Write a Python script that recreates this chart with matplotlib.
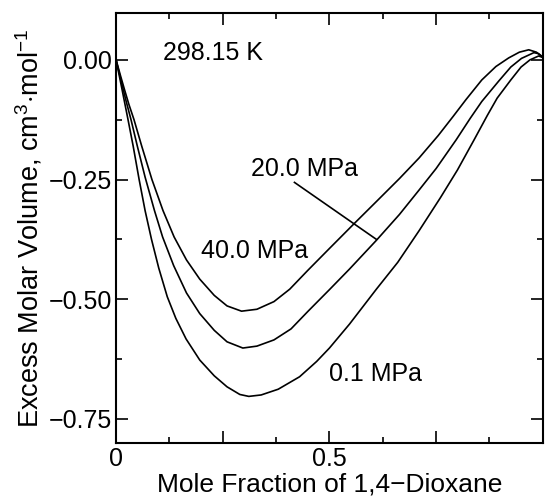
import numpy as np
import matplotlib.pyplot as plt
from matplotlib.ticker import MultipleLocator, FixedFormatter, FixedLocator

plt.rcParams['font.family'] = ['Liberation Sans', 'DejaVu Sans']
plt.rcParams['mathtext.fontset'] = 'custom'
plt.rcParams['mathtext.rm'] = 'Liberation Sans'
plt.rcParams['mathtext.it'] = 'Liberation Sans'

# mole fraction of 1,4-dioxane / excess molar volume (cm3/mol)
x_40 = [0.0, 0.01, 0.02, 0.03, 0.042, 0.06, 0.084, 0.11, 0.136, 0.165, 0.196, 0.23, 0.26,
        0.294, 0.33, 0.37, 0.407, 0.449, 0.50, 0.558, 0.61, 0.664, 0.71, 0.755, 0.79,
        0.82, 0.857, 0.89, 0.92, 0.945, 0.967, 0.985, 1.0]
v_40 = [0.0, -0.032, -0.063, -0.093, -0.125, -0.18, -0.25, -0.315, -0.37, -0.418, -0.458, -0.492, -0.514,
        -0.525, -0.521, -0.505, -0.479, -0.44, -0.394, -0.342, -0.296, -0.248, -0.205, -0.158, -0.118,
        -0.083, -0.042, -0.014, 0.004, 0.016, 0.021, 0.016, 0.005]

x_20 = [0.0, 0.012, 0.024, 0.035, 0.05, 0.068, 0.09, 0.109, 0.135, 0.165, 0.196, 0.23, 0.26,
        0.297, 0.33, 0.37, 0.41, 0.45, 0.50, 0.547, 0.61, 0.664, 0.71, 0.75, 0.797,
        0.83, 0.857, 0.897, 0.925, 0.95, 0.979, 0.99, 1.0]
v_20 = [0.0, -0.045, -0.088, -0.125, -0.181, -0.245, -0.315, -0.37, -0.43, -0.487, -0.53, -0.565, -0.589,
        -0.602, -0.598, -0.585, -0.562, -0.525, -0.48, -0.437, -0.377, -0.323, -0.272, -0.227, -0.167,
        -0.122, -0.087, -0.044, -0.015, 0.003, 0.015, 0.013, 0.006]

x_01 = [0.0, 0.014, 0.028, 0.04, 0.054, 0.068, 0.083, 0.10, 0.12, 0.14, 0.164, 0.196, 0.23,
        0.26, 0.29, 0.311, 0.34, 0.38, 0.43, 0.47, 0.50, 0.547, 0.61, 0.66, 0.71,
        0.76, 0.80, 0.839, 0.87, 0.893, 0.925, 0.949, 0.97, 0.99, 1.0]
v_01 = [0.0, -0.062, -0.125, -0.18, -0.25, -0.315, -0.375, -0.435, -0.495, -0.54, -0.583, -0.627, -0.66,
        -0.683, -0.699, -0.703, -0.7, -0.688, -0.662, -0.63, -0.602, -0.552, -0.479, -0.423, -0.357,
        -0.288, -0.23, -0.167, -0.116, -0.08, -0.042, -0.015, 0.0, 0.008, 0.005]

fig = plt.figure(figsize=(5.45, 4.97), dpi=100)
ax = fig.add_axes([0.213, 0.109, 0.783, 0.865])

for xs, vs in [(x_40, v_40), (x_20, v_20), (x_01, v_01)]:
    ax.plot(xs, vs, color='black', lw=1.2, solid_joinstyle='round')

ax.set_xlim(0, 1.0)
ax.set_ylim(-0.80, 0.098)

ax.xaxis.set_major_locator(FixedLocator([0, 0.25, 0.5, 0.75, 1.0]))
ax.xaxis.set_major_formatter(FixedFormatter(['0', '', '0.5', '', '']))
ax.xaxis.set_minor_locator(MultipleLocator(0.125))
ax.yaxis.set_major_locator(MultipleLocator(0.25))
ax.yaxis.set_major_formatter(plt.FuncFormatter(lambda v, p: f'{v:.2f}'.replace('-', '\u2212')))
ax.yaxis.set_minor_locator(MultipleLocator(0.125))

ax.tick_params(which='both', direction='in', top=True, right=True, width=1.2, labelsize=18)
ax.tick_params(which='major', length=8.5, pad=3)
ax.tick_params(which='minor', length=4.5)
for s in ax.spines.values():
    s.set_linewidth(1.5)

ax.set_xlabel('Mole Fraction of 1,4\u2212Dioxane', fontsize=19, labelpad=1)
ax.set_ylabel(r'Excess Molar Volume, cm$^{3}$$\cdot$mol$^{-1}$', fontsize=19.5, labelpad=3)

ax.text(0.11, 0.015, '298.15 K', fontsize=18, va='center', ha='left')
ax.text(0.315, -0.227, '20.0 MPa', fontsize=18, va='center', ha='left')
ax.text(0.199, -0.40, '40.0 MPa', fontsize=18, va='center', ha='left')
ax.text(0.50, -0.656, '0.1 MPa', fontsize=18, va='center', ha='left')
ax.plot([0.418, 0.61], [-0.256, -0.375], color='black', lw=1.2)

fig.savefig('out.png', dpi=100)
